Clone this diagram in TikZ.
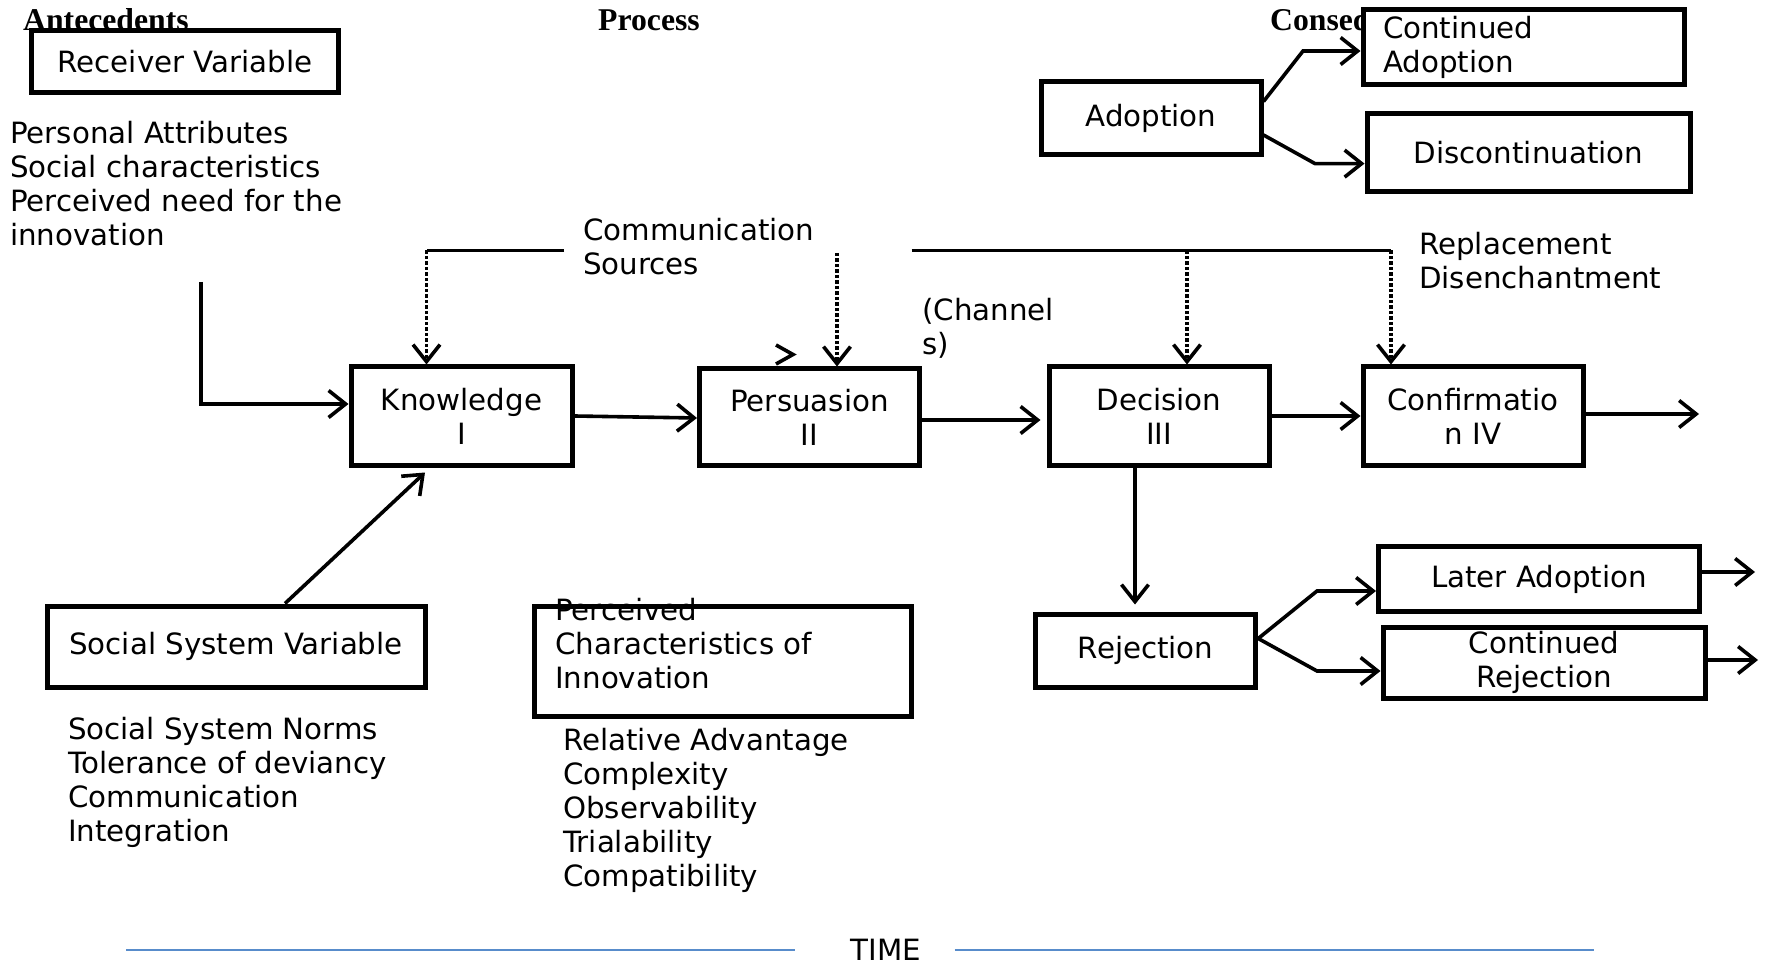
\documentclass[tikz,border=0pt]{standalone}
\usepackage{fontspec}
\setmainfont{DejaVu Sans}
\newfontfamily\headfont{Liberation Serif}
\usetikzlibrary{arrows.meta}
\definecolor{timeblue}{RGB}{88,140,203}
\newcommand{\bodyfont}{\fontsize{29.3pt}{34pt}\selectfont}
\newcommand{\headingfont}{\headfont\bfseries\fontsize{31.7pt}{34pt}\selectfont}
\begin{document}
\begin{tikzpicture}[x=1pt,y=-1pt,
  every node/.style={font=\bodyfont, inner sep=0pt},
  box/.style={draw, line width=5pt, fill=white, align=center},
  frame/.style={draw, line width=5pt},
  label/.style={anchor=west, align=left},
  heading/.style={anchor=base west, font=\headingfont},
  wire/.style={line width=3.6pt, line join=miter},
  conn/.style={wire, -{Straight Barb[length=17pt,width=27pt,line join=miter]}},
  dots/.style={conn, dash pattern=on 3.5pt off 2pt},
]
\useasboundingbox (0,0) rectangle (1769,965);

% column headings (partly covered by the boxes drawn afterwards)
\node[heading] (hA) at (23,31) {Antecedents};
\node[heading] (hP) at (598,31) {Process};
\node[heading] (hC) at (1270,31) {Consequences};

% antecedents
\node[box, minimum width=307pt, minimum height=62pt] (recv) at (185,61.5) {Receiver Variable};
\node[label] (recvList) at (10,183.5) {Personal Attributes\\Social characteristics\\Perceived need for the\\innovation};

\node[box, minimum width=378pt, minimum height=81pt] (social) at (236,646.5) {Social System Variable};
\node[label] (socialList) at (68,782) {Social System Norms\\Tolerance of deviancy\\Communication\\Integration};

% innovation characteristics: the text runs under the frame's top edge
\node[label] (percText) at (555,644) {Perceived\\Characteristics of\\Innovation};
\node[frame, minimum width=376.6pt, minimum height=110pt] (perc) at (723,661) {};
\node[label] (percList) at (563,810) {Relative Advantage\\Complexity\\Observability\\Trialability\\Compatibility};

% process stages
\node[box, minimum width=221pt, minimum height=98pt] (know) at (461.5,416) {Knowledge\\I};
\node[box, minimum width=220pt, minimum height=96pt] (pers) at (809.5,417) {Persuasion\\II};
\node[box, minimum width=220pt, minimum height=98pt] (deci) at (1159,416) {Decision\\III};
\node[box, minimum width=220pt, minimum height=98pt] (conf) at (1473,416) {Confirmatio\\n IV};

% communication channels
\node[label] (comm) at (583,247) {Communication\\Sources};
\node[label] (chan) at (922,328) {(Channel\\s)};
\node[label] (repl) at (1419,260.5) {Replacement\\Disenchantment};

\coordinate (cA) at (564,250.5);
\coordinate (cL) at (426.5,250.5);
\coordinate (cB) at (837,253);
\coordinate (cR0) at (911.6,250.5);
\coordinate (cR1) at (1187,250.5);
\coordinate (cR2) at (1391,250.5);
\draw[wire] (cA) -- (cL);
\draw[wire] (cR0) -- (cR2);
\draw[dots] (cL) -- (know.north -| cL);
\draw[dots] (cB) -- (pers.north -| cB);
\draw[dots] (cR1) -- (deci.north -| cR1);
\draw[dots] (cR2) -- (conf.north -| cR2);
\draw[wire] (776,345) -- (793,354.5) -- (776,364);

% consequences
\node[box, minimum width=220pt, minimum height=73.6pt] (adopt) at (1151,118) {Adoption};
\node[box, minimum width=321pt, minimum height=75.6pt, text width=281pt, align=left] (cadopt) at (1523.5,47) {Continued\\Adoption};
\node[box, minimum width=323pt, minimum height=78pt] (discont) at (1528.5,153) {Discontinuation};
\node[box, minimum width=220pt, minimum height=73pt] (rej) at (1145.7,650.5) {Rejection};
\node[box, minimum width=321pt, minimum height=65.5pt] (later) at (1539,579) {Later Adoption};
\node[box, minimum width=322pt, minimum height=71pt] (crej) at (1544,662.5) {Continued\\Rejection};

% antecedent links
\coordinate (r0) at (201,282);
\draw[conn] (r0) |- ([yshift=12pt]know.west);
\draw[conn] ([xshift=49pt]social.north) -- ([xshift=-36.5pt,yshift=-5pt]know.south);

% stage sequence
\draw[conn] (know.east) -- ([yshift=-1pt]pers.west);
\draw[conn] ([yshift=-3pt]pers.east) -- ([xshift=-6pt,yshift=-4pt]deci.west);
\draw[conn] (deci.east) -- (conf.west);
\coordinate (o1) at (1699,414);
\draw[conn] ([yshift=2pt]conf.east) -- (o1);
\draw[conn] ([xshift=-24pt]deci.south) -- ([xshift=-10.7pt,yshift=7pt]rej.north);

% branches after the decision
\coordinate (ka1) at (1303,51);
\coordinate (ka2) at (1315,163.6);
\draw[conn] ([yshift=16.5pt]adopt.east) -- (ka1) -- ([yshift=-4pt]cadopt.west);
\draw[conn] ([yshift=-17pt]adopt.east) -- (ka2) -- ([yshift=-10.6pt]discont.west);

\coordinate (kr1) at (1317,591);
\coordinate (kr2) at (1317,671);
\draw[conn] ([yshift=12pt]rej.east) -- (kr1) -- ([yshift=-12pt]later.west);
\draw[conn] ([yshift=12pt]rej.east) -- (kr2) -- ([yshift=-8.5pt]crej.west);

\coordinate (o2) at (1755,572);
\coordinate (o3) at (1758,660);
\draw[conn] ([yshift=7pt]later.east) -- (o2);
\draw[conn] ([yshift=2.5pt]crej.east) -- (o3);

% time axis
\node (time) at (886,950) {TIME};
\coordinate (t0) at (126,950);
\coordinate (t1) at (1594,950);
\draw[timeblue, line width=2.4pt] (t0) -- (795,950);
\draw[timeblue, line width=2.4pt] (954.5,950) -- (t1);
\end{tikzpicture}
\end{document}
